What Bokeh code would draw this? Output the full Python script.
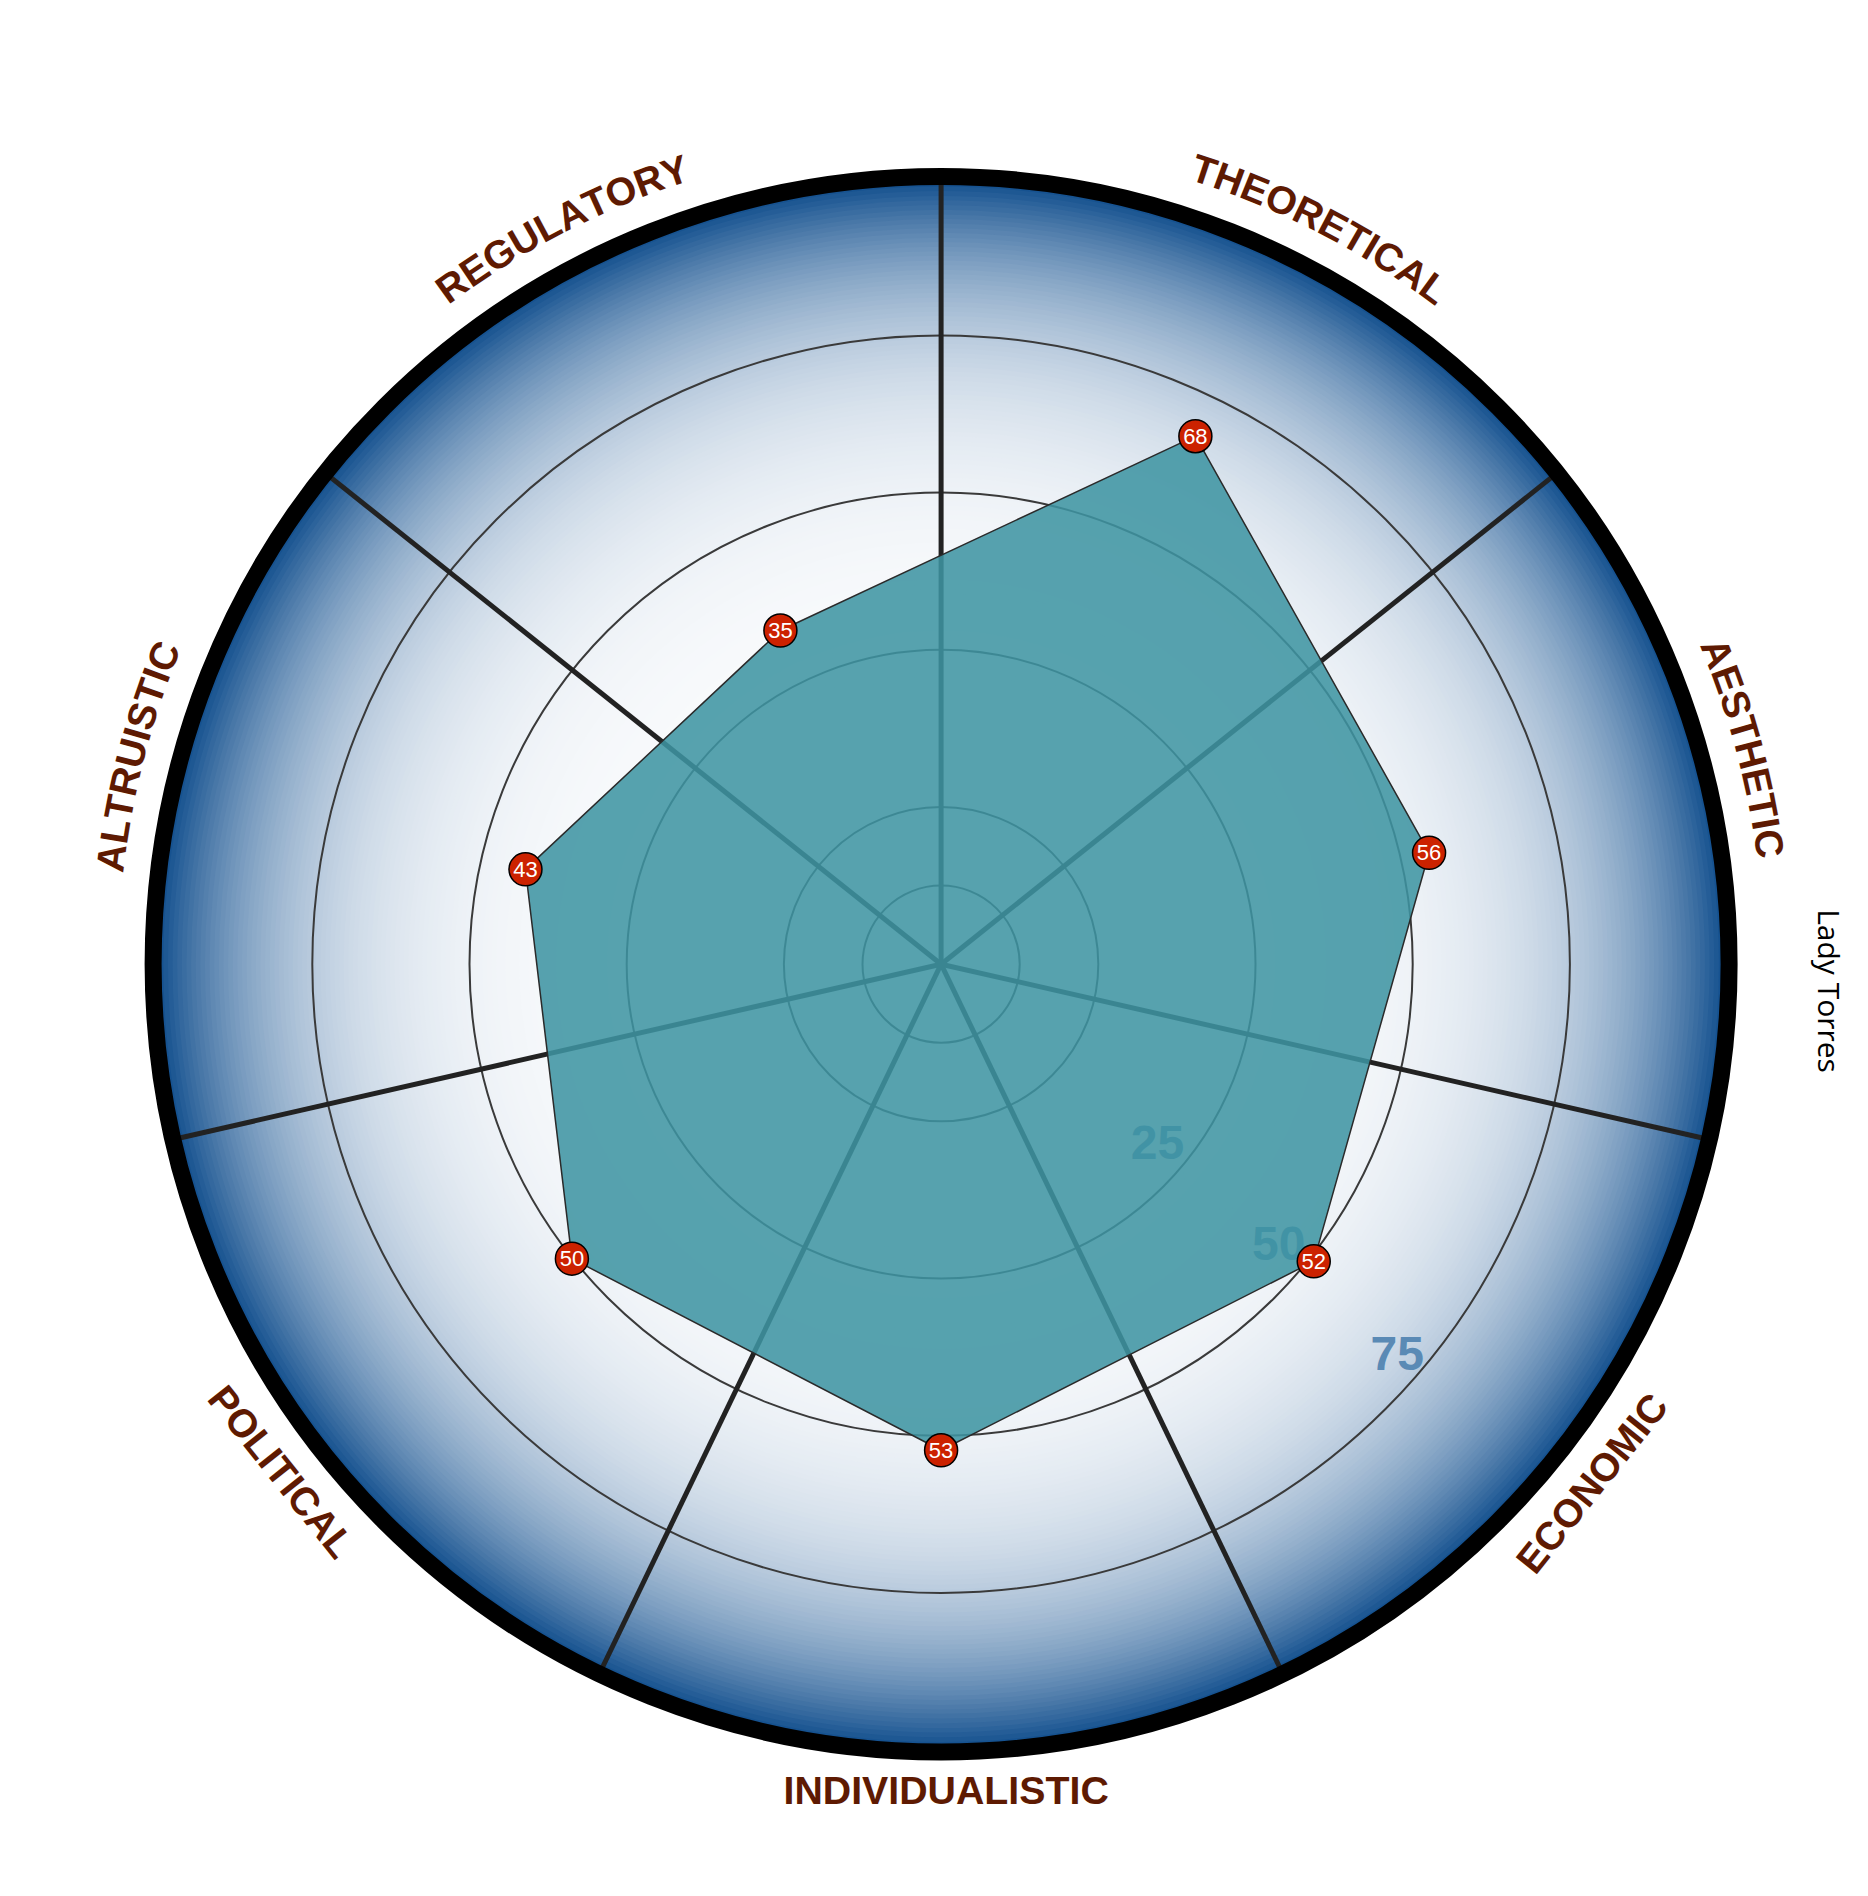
import math
from bokeh.plotting import figure
from bokeh.models import Range1d
from bokeh.core.properties import value
from bokeh.embed import file_html
from bokeh.resources import INLINE

# ---------------- data ----------------
categories = ["THEORETICAL", "AESTHETIC", "ECONOMIC", "INDIVIDUALISTIC",
              "POLITICAL", "ALTRUISTIC", "REGULATORY"]
# plotted radial positions
scores = [68.2, 54.6, 50.8, 52.3, 50.1, 42.8, 33.9]
# values printed in the markers
score_labels = ["68", "56", "52", "53", "50", "43", "35"]
series_name = "Lady Torres"
ring_values = [-12.5, 0, 25, 50, 75]
tick_values = [25, 50, 75]
tick_labels = ["25", "50", "75"]
r_min, r_max = -25, 100

# ---------------- layout ----------------
W, H = 1850, 1876
CX, CY = 940.6, 963.7      # chart centre inside the figure (px from top-left)
R = 786.0                  # radius of value r_max

# small angular nudges of the labels (layout only)
label_nudge = {"THEORETICAL": 1.5, "AESTHETIC": -2.2, "ALTRUISTIC": 1.6, "REGULATORY": -1.5,
               "INDIVIDUALISTIC": -0.35, "POLITICAL": 1.0, "ECONOMIC": 0.0}
tick_offset = [34, 33.5, 29]
tick_angle = [129.5, 129.6, 130.5]

def rad(v):
    return (v - r_min) / (r_max - r_min) * R

def pol(r, deg):
    a = math.radians(deg)
    return r * math.sin(a), r * math.cos(a)

n = len(categories)
step = 360.0 / n

p = figure(width=W, height=H, x_range=Range1d(-CX, W - CX), y_range=Range1d(CY - H, CY),
           output_backend="svg", toolbar_location=None, min_border=0,
           x_axis_type=None, y_axis_type=None)
p.xgrid.visible = False
p.ygrid.visible = False
p.outline_line_color = None
p.background_fill_color = "white"
p.border_fill_color = "white"

# ---------------- radial gradient background ----------------
N = 170
blue = (14, 76, 140)
gx, gy, gr, gc = [], [], [], []
for i in range(N, 0, -1):
    rr = R * i / N
    t = 0.02 + 0.98 * (rr / R) ** 5.8
    c = tuple(int(round(255 + (b - 255) * t)) for b in blue)
    gx.append(0); gy.append(0); gr.append(rr + 1.0)
    gc.append("#%02x%02x%02x" % c)
p.circle(x=gx, y=gy, radius=gr, fill_color=gc, line_color=None)

# grid rings
p.circle(x=[0] * len(ring_values), y=[0] * len(ring_values),
         radius=[rad(v) for v in ring_values], fill_color=None,
         line_color="#3a3a3a", line_width=2)

# spokes
sx1, sy1 = [], []
for k in range(n):
    x1, y1 = pol(R + 4, k * step)
    sx1.append(x1); sy1.append(y1)
p.segment(x0=[0] * n, y0=[0] * n, x1=sx1, y1=sy1, line_color="#222222", line_width=5)

# tick labels
tx, ty = [], []
for v, off, ang in zip(tick_values, tick_offset, tick_angle):
    x, y = pol(rad(v) - off, ang)
    tx.append(x); ty.append(y)
p.text(x=tx, y=ty, text=tick_labels, text_align="center", text_baseline="middle",
       text_font=value("Liberation Sans"), text_font_style="bold",
       text_font_size=value("48px"), text_color="#5a8ab5")

# ---------------- polygon ----------------
angles = [(k + 0.5) * step for k in range(n)]
px, py = [], []
for v, a in zip(scores, angles):
    x, y = pol(rad(v), a)
    px.append(x); py.append(y)
p.patch(x=px, y=py, fill_color="#3e94a2", fill_alpha=0.87,
        line_color="#2a2a2a", line_width=1.5)

# outer ring
p.circle(x=[0], y=[0], radius=[R + 2], fill_color=None, line_color="black", line_width=17)

# markers
p.circle(x=px, y=py, radius=16.5, fill_color="#cc2200", line_color="black", line_width=1.5)
p.text(x=px, y=py, text=score_labels, text_align="center", text_baseline="middle",
       text_font=value("Liberation Sans"), text_font_size=value("22px"), text_color="white")

# ---------------- category labels ----------------
AW = {'A': 722, 'B': 722, 'C': 722, 'D': 722, 'E': 667, 'F': 611, 'G': 778, 'H': 722,
      'I': 278, 'J': 556, 'K': 722, 'L': 611, 'M': 833, 'N': 722, 'O': 778, 'P': 667,
      'Q': 778, 'R': 722, 'S': 667, 'T': 611, 'U': 722, 'V': 667, 'W': 944, 'X': 667,
      'Y': 667, 'Z': 611}
FS = 39.3
lab_color = "#5e1a02"
R_TOP = 837.0     # centre line of the curved (upper) labels
R_ADV = 823.0     # radius used for the letter advance along the arc
cx_, cy_, ct, ca = [], [], [], []
sx_, sy_, st, sa = [], [], [], []
for name, th in zip(categories, angles):
    th2 = th + label_nudge.get(name, 0.0)
    if math.cos(math.radians(th)) > -0.05:
        widths = [AW.get(ch, 600) / 1000.0 * FS for ch in name]
        total = sum(widths)
        start = th2 - math.degrees(total / R_ADV) / 2
        cum = 0.0
        for ch, w in zip(name, widths):
            a = start + math.degrees((cum + w / 2) / R_ADV)
            x, y = pol(R_TOP, a)
            cx_.append(x); cy_.append(y); ct.append(ch); ca.append(-math.radians(a))
            cum += w
    else:
        rl = 826.0 if abs(th - 180) < 1 else 832.0
        x, y = pol(rl, th2)
        sx_.append(x); sy_.append(y); st.append(name); sa.append(math.radians(180 - th))

p.text(x=cx_, y=cy_, text=ct, angle=ca, text_align="center", text_baseline="middle",
       text_font=value("Liberation Sans"), text_font_style="bold",
       text_font_size=value("%.1fpx" % FS), text_color=lab_color)
p.text(x=sx_, y=sy_, text=st, angle=sa, text_align="center", text_baseline="middle",
       text_font=value("Liberation Sans"), text_font_style="bold",
       text_font_size=value("%.1fpx" % FS), text_color=lab_color)

# legend text
p.text(x=[888.0], y=[-26.8], text=[series_name], angle=-math.pi / 2,
       text_align="center", text_baseline="middle",
       text_font=value("Open Sans"), text_font_size=value("30px"), text_color="black")

open("out.html", "w").write(file_html(p, INLINE))
